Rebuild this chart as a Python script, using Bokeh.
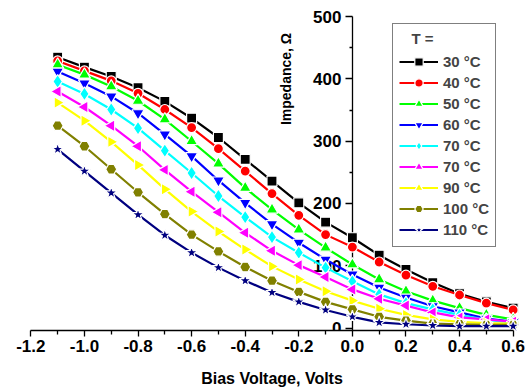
import numpy as np
from bokeh.plotting import figure
from bokeh.models import Range1d, FixedTicker, NumeralTickFormatter, Legend, LegendItem, Label, Title
from bokeh.embed import file_html
from bokeh.resources import INLINE

bias_voltage = [-1.1, -1.0, -0.9, -0.8, -0.7, -0.6, -0.5, -0.4, -0.3, -0.2,
                -0.1, 0.0, 0.1, 0.2, 0.3, 0.4, 0.5, 0.6]

z_30 = [435, 419, 404, 386, 364, 337, 306, 271, 236, 201, 170, 145, 117, 94, 73, 55, 42, 32]
z_40 = [429, 413, 397, 377, 351, 322, 288, 252, 216, 181, 150, 130, 106, 85, 67, 53, 40, 29]
z_50 = [423, 407, 388, 365, 335, 300, 264, 225, 190, 158, 129, 102, 78, 59, 44, 32, 21, 14]
z_60 = [412, 393, 372, 345, 311, 276, 237, 201, 167, 137, 110, 86, 65, 49, 35, 25, 15, 10]
z_70a = [396, 376, 351, 321, 285, 249, 212, 178, 146, 121, 97, 75, 54, 40, 30, 21, 13, 9]
z_70b = [380, 355, 325, 292, 254, 219, 186, 153, 124, 101, 82, 62, 47, 36, 25, 17, 14, 10]
z_90 = [362, 333, 299, 262, 223, 187, 155, 126, 99, 78, 59, 44, 31, 21, 14, 10, 8, 7]
z_100 = [325, 292, 255, 218, 183, 150, 123, 98, 76, 58, 42, 30, 18, 12, 7, 6, 5, 5]
z_110 = [287, 252, 217, 182, 149, 121, 97, 76, 57, 42, 29, 18, 9, 6, 4, 3, 3, 3]

series_values = [z_30, z_40, z_50, z_60, z_70a, z_70b, z_90, z_100, z_110]
series_labels = ["30 °C", "40 °C", "50 °C", "60 °C", "70 °C", "70 °C", "90 °C", "100 °C", "110 °C"]

x_ticks = [-1.2, -1.0, -0.8, -0.6, -0.4, -0.2, 0.0, 0.2, 0.4, 0.6]
x_minor = [-1.1, -0.9, -0.7, -0.5, -0.3, -0.1, 0.1, 0.3, 0.5]
y_ticks = [0, 100, 200, 300, 400, 500]
y_minor = [50, 150, 250, 350, 450]

colors = ["#000000", "#FF0000", "#00FF00", "#0000FF", "#00FFFF", "#FF00FF", "#FFFF00", "#808000", "#000080"]
markers = ["square", "circle", "triangle", "inverted_triangle", "diamond", "triangle", "triangle", "hex", "star"]
angles = [0, 0, 0, 0, 0, np.pi / 2, -np.pi / 2, 0, 0]
sizes = [10, 10, 12, 12, 14, 12, 12, 11, 13]

FONT = "Liberation Sans"

p = figure(width=526, height=390, output_backend="svg", toolbar_location=None,
           x_range=Range1d(-1.22, 0.62), y_range=Range1d(-4, 510),
           min_border_left=25, min_border_right=8, min_border_top=10, min_border_bottom=60)
p.outline_line_color = None
p.grid.visible = False
p.background_fill_color = "white"

xa = p.xaxis[0]
xa.bounds = (-1.2, 0.6)
xa.ticker = FixedTicker(ticks=x_ticks, minor_ticks=x_minor)
xa.formatter = NumeralTickFormatter(format="0.0")
xa.major_tick_in = 0
xa.major_tick_out = 6
xa.minor_tick_in = 0
xa.minor_tick_out = 4
xa.major_label_standoff = 3

ya = p.yaxis[0]
ya.fixed_location = 0
ya.bounds = (-4, 500)
ya.ticker = FixedTicker(ticks=y_ticks, minor_ticks=y_minor)
ya.major_tick_in = 0
ya.major_tick_out = 7
ya.minor_tick_in = 0
ya.minor_tick_out = 3
ya.major_label_standoff = 4
ya.level = "underlay"

for ax in (xa, ya):
    ax.axis_line_color = "black"
    ax.axis_line_width = 1.3
    ax.major_tick_line_width = 1.3
    ax.minor_tick_line_width = 1.3
    ax.major_label_text_font = FONT
    ax.major_label_text_font_style = "bold"
    ax.major_label_text_font_size = "17px"
    ax.major_label_text_color = "black"

items = []
for vals, lab, c, m, a, s in zip(series_values, series_labels, colors, markers, angles, sizes):
    rl = p.line(bias_voltage, vals, line_color=c, line_width=2.2)
    rm = p.scatter(bias_voltage, vals, marker=m, size=s, angle=a,
                   fill_color=c, line_color="white", line_width=1.2)
    items.append(LegendItem(label=lab, renderers=[rl, rm]))

legend = Legend(items=items, location=(367, 83), title="\u00a0\u00a0\u00a0T =",
                border_line_color="black", border_line_width=1,
                background_fill_alpha=1.0,
                label_text_font=FONT, label_text_font_style="bold", label_text_font_size="15px",
                title_text_font=FONT, title_text_font_style="bold", title_text_font_size="15px",
                glyph_width=39, glyph_height=21, label_height=21, label_standoff=5,
                spacing=0, padding=6, margin=0, title_standoff=4)
p.add_layout(legend)

# small spacer between the tick labels and the axis title
spacer = Title(text="\u00a0", text_font_size="9px", standoff=1)
p.add_layout(spacer, "below")

xtitle = Title(text="Bias Voltage, Volts", align="center", offset=99, standoff=0,
               text_font=FONT, text_font_style="bold", text_font_size="16px",
               text_color="black")
p.add_layout(xtitle, "below")

p.add_layout(Label(x=-0.246, y=400, text="Impedance, Ω", angle=np.pi / 2,
                   text_align="center", text_baseline="middle", text_font=FONT,
                   text_font_style="bold", text_font_size="14px", text_color="black"))

open("out.html", "w").write(file_html(p, INLINE))
